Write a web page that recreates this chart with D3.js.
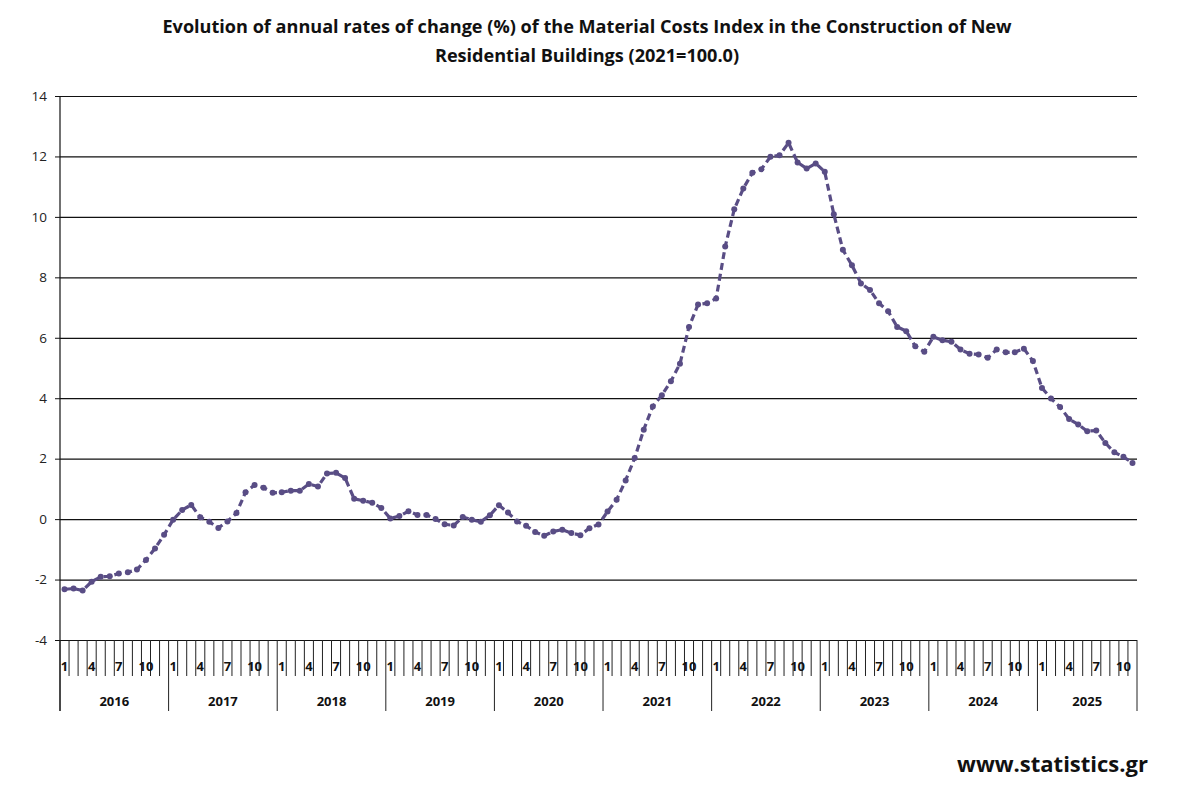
<!DOCTYPE html>
<html>
<head>
<meta charset="utf-8">
<title>Material Costs Index - annual rates of change</title>
<style>
  body { margin: 0; background: #fff; }
  svg { display: block; }
  .title { font: bold 18.1px "Open Sans", sans-serif; fill: #111; }
  .ytick text { font: 13.5px "Open Sans", sans-serif; fill: #222; }
  .mlab, .ylab { font: bold 13px "Open Sans", sans-serif; fill: #111; }
  .brand { font: bold 22px "Open Sans", sans-serif; fill: #111; }
</style>
</head>
<body>
<script src="https://cdn.jsdelivr.net/npm/d3@7"></script>
<script>
// data: Jan 2016 .. Nov 2025, monthly annual rate of change (%)
const years = ["2016","2017","2018","2019","2020","2021","2022","2023","2024","2025"];
const monthTicks = [1, 4, 7, 10];
const yTicks = [-4, -2, 0, 2, 4, 6, 8, 10, 12, 14];
const values = [
  -2.32, -2.30, -2.36, -2.07, -1.91, -1.89, -1.80, -1.76, -1.67, -1.35, -0.97, -0.52, // 2016
  -0.02, 0.30, 0.47, 0.06, -0.09, -0.29, -0.08, 0.20, 0.89, 1.13, 1.04, 0.87,          // 2017
  0.89, 0.94, 0.94, 1.16, 1.08, 1.51, 1.53, 1.36, 0.67, 0.61, 0.54, 0.37,              // 2018
  0.02, 0.10, 0.26, 0.14, 0.14, 0.00, -0.17, -0.21, 0.07, -0.02, -0.09, 0.13,          // 2019
  0.46, 0.22, -0.08, -0.22, -0.43, -0.55, -0.41, -0.35, -0.46, -0.53, -0.30, -0.18,    // 2020
  0.25, 0.64, 1.28, 2.02, 2.96, 3.73, 4.10, 4.56, 5.14, 6.36, 7.10, 7.14,              // 2021
  7.30, 9.02, 10.25, 10.94, 11.46, 11.58, 11.99, 12.04, 12.45, 11.80, 11.60, 11.77,    // 2022
  11.49, 10.09, 8.91, 8.40, 7.80, 7.58, 7.14, 6.88, 6.36, 6.22, 5.72, 5.54,            // 2023
  6.03, 5.92, 5.87, 5.61, 5.47, 5.45, 5.34, 5.61, 5.52, 5.52, 5.64, 5.23,              // 2024
  4.34, 3.99, 3.71, 3.31, 3.13, 2.91, 2.93, 2.52, 2.21, 2.06, 1.86                     // 2025
];

const W = 1199, H = 790;
const m = { l: 60, r: 1137, t: 96, b: 640 };

const svg = d3.select("body").append("svg").attr("width", W).attr("height", H);

const x = d3.scaleBand().domain(d3.range(values.length)).range([m.l, m.r]);
const y = d3.scaleLinear().domain([-4, 14]).range([m.b, m.t]);

// title
svg.append("text").attr("class", "title").attr("x", 587).attr("y", 33).attr("text-anchor", "middle")
  .text("Evolution of annual rates of change (%) of the Material Costs Index in the Construction of New");
svg.append("text").attr("class", "title").attr("x", 587).attr("y", 62).attr("text-anchor", "middle")
  .text("Residential Buildings (2021=100.0)");

// gridlines
svg.append("g")
  .attr("transform", `translate(${m.l},0)`)
  .call(d3.axisLeft(y).tickValues(yTicks).tickSize(-(m.r - m.l)).tickFormat(""))
  .call(g => g.select(".domain").remove())
  .call(g => g.selectAll("line").attr("stroke", "#111").attr("stroke-width", 1.2));

// y axis
svg.append("g")
  .attr("class", "ytick")
  .attr("transform", `translate(${m.l},0)`)
  .call(d3.axisLeft(y).tickValues(yTicks).tickSize(5).tickPadding(8).tickFormat(d => String(d)))
  .call(g => g.select(".domain").remove())
  .call(g => g.selectAll("line").attr("stroke", "#111"));

// left axis line down through the category area
svg.append("line").attr("x1", m.l).attr("x2", m.l).attr("y1", m.t).attr("y2", 711)
  .attr("stroke", "#111").attr("stroke-width", 1.2);

// month separators
const n = values.length;
svg.append("g").selectAll("line").data(d3.range(n + 1)).join("line")
  .attr("x1", i => i < n ? x(i) : m.r)
  .attr("x2", i => i < n ? x(i) : m.r)
  .attr("y1", m.b)
  .attr("y2", i => (i % 12 === 0 || i === n) ? 711 : 676)
  .attr("stroke", "#222").attr("stroke-width", 1);

// month labels
svg.append("g").selectAll("text")
  .data(d3.range(n).filter(i => monthTicks.includes(i % 12 + 1)))
  .join("text")
  .attr("class", "mlab")
  .attr("x", i => x(i) + x.bandwidth() / 2)
  .attr("y", 671)
  .attr("text-anchor", "middle")
  .text(i => i % 12 + 1);

// year labels
svg.append("g").selectAll("text").data(years).join("text")
  .attr("class", "ylab")
  .attr("x", (d, k) => {
    const a = x(k * 12), b = (k + 1) * 12;
    const e = b < n ? x(b) : m.r;
    return (a + e) / 2;
  })
  .attr("y", 706)
  .attr("text-anchor", "middle")
  .text(d => d);

// series
const cx = i => x(i) + x.bandwidth() / 2;
const color = "#594d85";
svg.append("path")
  .datum(values)
  .attr("fill", "none")
  .attr("stroke", color)
  .attr("stroke-width", 3.2)
  .attr("stroke-dasharray", "7,4")
  .attr("d", d3.line().x((d, i) => cx(i)).y(d => y(d)));

svg.append("g").selectAll("circle").data(values).join("circle")
  .attr("cx", (d, i) => cx(i))
  .attr("cy", d => y(d))
  .attr("r", 3)
  .attr("fill", color);

svg.append("text").attr("class", "brand").attr("x", 1148).attr("y", 772).attr("text-anchor", "end")
  .text("www.statistics.gr");
</script>
</body>
</html>
